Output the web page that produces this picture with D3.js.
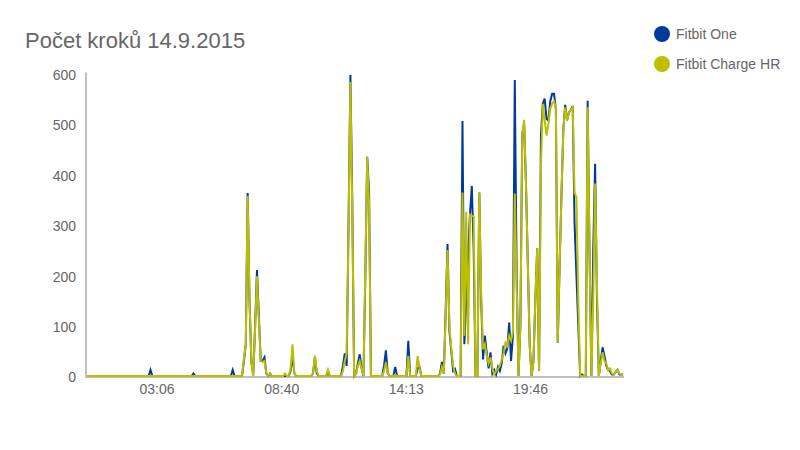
<!DOCTYPE html>
<html>
<head>
<meta charset="utf-8">
<script src="https://cdn.jsdelivr.net/npm/d3@7"></script>
<style>
  html, body { margin: 0; padding: 0; background: #ffffff; }
  svg { display: block; font-family: "Liberation Sans", Arial, sans-serif; }
</style>
</head>
<body>
<svg id="chart" width="800" height="450"></svg>
<script>
// ---- Data (steps per 5-minute interval, 14.9.2015, 00:00 .. 23:55) ----
const chartTitle = "Počet kroků 14.9.2015";
const seriesNames = ["Fitbit One", "Fitbit Charge HR"];
const seriesColors = ["#003a9a", "#bcbf00"];
const startTime = new Date(2015, 8, 14, 0, 0);
const endTime = new Date(2015, 8, 15, 0, 0);
const stepMinutes = 5;
const xTickLabels = ["03:06", "08:40", "14:13", "19:46"];
const yTickValues = [0, 100, 200, 300, 400, 500, 600];

// Fitbit One (each row = 2 hours)
const fitbitOne = [
  0,0,0,0,0,0,0,0,0,0,0,0,0,0,0,0,0,0,0,0,0,0,0,0,
  0,0,0,0,0,0,0,0,0,0,12,0,0,0,0,0,0,0,0,0,0,0,0,0,
  0,0,0,0,0,0,0,0,0,5,0,0,0,0,0,0,0,0,0,0,0,0,0,0,
  0,0,0,0,0,0,12,0,0,0,0,0,30,63,363,150,27,3,100,210,120,30,30,37,
  5,0,5,0,0,0,0,0,0,0,0,0,0,10,40,5,0,0,0,0,0,0,0,0,
  0,5,38,5,0,0,0,0,0,8,0,0,0,0,0,0,0,20,45,20,300,597,350,0,
  5,25,43,15,0,200,435,365,0,0,0,0,0,0,0,20,51,5,0,0,0,18,0,0,
  0,0,0,0,70,0,0,0,0,15,18,0,0,0,0,0,0,0,0,0,0,5,28,5,
  130,262,90,50,10,14,0,0,0,506,63,150,240,320,377,250,0,0,364,150,33,80,45,15,
  47,5,12,3,18,10,25,60,45,55,106,30,80,587,200,0,100,480,500,380,220,60,0,30,
  150,254,10,477,540,550,510,507,545,560,560,530,66,220,360,490,538,507,523,528,535,303,200,100,
  0,3,0,0,546,250,0,250,421,150,0,30,57,40,20,12,10,3,3,8,12,3,3,3
];

// Fitbit Charge HR (each row = 2 hours)
const fitbitChargeHR = [
  0,0,0,0,0,0,0,0,0,0,0,0,0,0,0,0,0,0,0,0,0,0,0,0,
  0,0,0,0,0,0,0,0,0,0,0,0,0,0,0,0,0,0,0,0,0,0,0,0,
  0,0,0,0,0,0,0,0,0,0,0,0,0,0,0,0,0,0,0,0,0,0,0,0,
  0,0,0,0,0,0,0,0,0,0,0,0,35,63,357,150,27,0,95,198,110,30,28,30,
  5,0,5,0,0,0,0,0,0,0,5,0,0,15,63,5,0,0,0,0,0,0,0,0,
  0,5,40,10,0,0,0,0,0,12,0,0,0,0,0,0,0,10,30,45,290,583,330,0,
  5,20,30,15,0,215,435,340,0,0,0,0,0,0,0,10,27,5,0,0,0,3,0,0,
  0,0,0,0,40,0,0,0,0,40,15,0,0,0,0,0,0,0,0,0,0,3,18,5,
  120,250,100,55,20,5,0,0,0,364,80,326,63,320,318,316,0,0,364,160,53,63,40,25,
  37,15,3,10,14,20,33,45,66,60,80,70,86,362,180,0,100,480,508,380,220,60,0,30,
  150,254,10,415,540,507,477,500,530,540,545,533,66,220,360,490,533,507,523,528,533,363,355,150,
  0,0,0,0,533,250,0,150,382,180,0,25,47,30,25,12,15,5,3,8,12,5,3,3
];

// ---- Build ----
const parseHM = d3.timeParse("%H:%M");
const fmtHM = d3.timeFormat("%H:%M");
function timeAt(i) { return d3.timeMinute.offset(startTime, i * stepMinutes); }
function tickDate(label) {
  const t = parseHM(label);
  return new Date(2015, 8, 14, t.getHours(), t.getMinutes());
}

const svg = d3.select("#chart");
const x = d3.scaleTime().domain([startTime, endTime]).range([87, 625]);
const y = d3.scaleLinear().domain([0, 600]).range([376, 73.5]);

// Title
svg.append("text")
  .attr("x", 25).attr("y", 47.5)
  .attr("font-size", 22).attr("fill", "#666666")
  .text(chartTitle);

// Y axis
const yAxis = svg.append("g")
  .attr("transform", "translate(86,0)")
  .call(d3.axisLeft(y).tickValues(yTickValues).tickSize(0).tickPadding(10));
yAxis.select(".domain").attr("stroke", "#c0c0c0").attr("stroke-width", 2)
  .attr("d", `M0,${y(600) - 1}V377`);
yAxis.selectAll("text").attr("font-size", 14).attr("fill", "#666666")
  .attr("dy", "0.42em")
  .attr("font-family", "'Liberation Sans', Arial, sans-serif");

// X axis
const xAxis = svg.append("g")
  .attr("transform", "translate(0,377)")
  .call(d3.axisBottom(x).tickValues(xTickLabels.map(tickDate))
    .tickFormat(fmtHM).tickSize(0).tickPadding(7));
xAxis.select(".domain").attr("stroke", "#c0c0c0").attr("stroke-width", 2)
  .attr("d", "M85,0H624");
xAxis.selectAll("text").attr("font-size", 14).attr("fill", "#666666")
  .attr("font-family", "'Liberation Sans', Arial, sans-serif");

// Lines
const line = d3.line()
  .x((d, i) => x(timeAt(i)))
  .y(d => y(d));

[fitbitOne, fitbitChargeHR].forEach((vals, k) => {
  svg.append("path")
    .datum(vals)
    .attr("fill", "none")
    .attr("stroke", seriesColors[k])
    .attr("stroke-width", 2)
    .attr("d", line);
});

// Legend
const legend = svg.append("g");
seriesNames.forEach((name, k) => {
  const g = legend.append("g").attr("transform", `translate(662,${34 + k * 30})`);
  g.append("circle").attr("r", 8).attr("fill", seriesColors[k]);
  g.append("text").attr("x", 14).attr("y", 5)
    .attr("font-size", 14).attr("fill", "#666666")
    .text(name);
});
</script>
</body>
</html>
